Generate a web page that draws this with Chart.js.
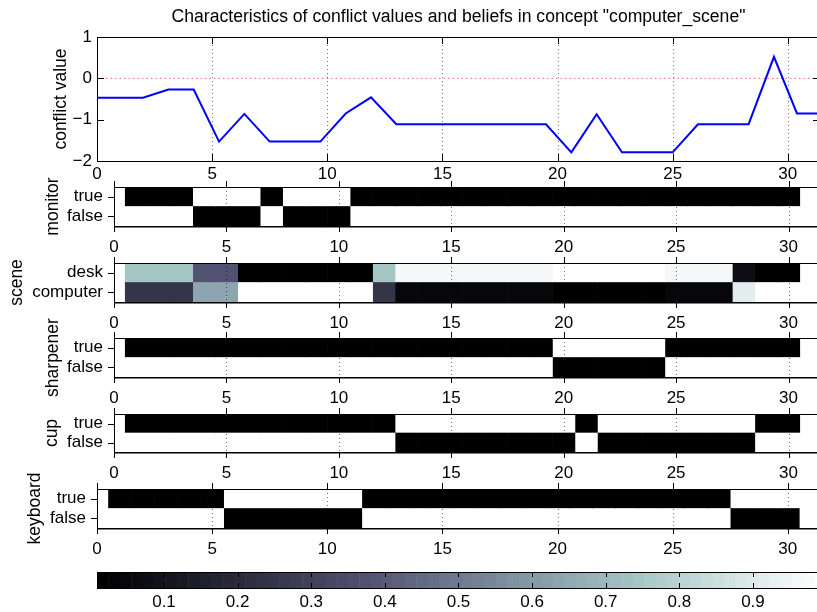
<!DOCTYPE html>
<html>
<head>
<meta charset="utf-8">
<script src="https://cdn.jsdelivr.net/npm/chart.js@4"></script>
<style>
    body { margin: 0; background: #fff; }
    #fig { position: relative; width: 817px; height: 612px; overflow: hidden; background: #fff; }
    #fig canvas { position: absolute; left: 0; top: 0; }
</style>
</head>
<body>
<div id="fig">
    <canvas id="conflictChart" width="840" height="612"></canvas>
    <canvas id="monitorChart" width="840" height="612"></canvas>
    <canvas id="sceneChart" width="840" height="612"></canvas>
    <canvas id="sharpenerChart" width="840" height="612"></canvas>
    <canvas id="cupChart" width="840" height="612"></canvas>
    <canvas id="keyboardChart" width="840" height="612"></canvas>
    <canvas id="colorbarChart" width="840" height="612"></canvas>
</div>
<script>
const titleText = 'Characteristics of conflict values and beliefs in concept "computer_scene"';

// top panel: conflict value per step
const conflictX = [-0.19, 0.9, 2.0, 3.1, 4.2, 5.3, 6.4, 7.5, 8.6, 9.7, 10.8, 11.9, 13.0, 14.1, 15.2,
    16.3, 17.4, 18.4, 19.5, 20.6, 21.7, 22.8, 23.9, 25.0, 26.1, 27.2, 28.3, 29.4, 30.4, 31.5];
const conflictY = [-0.47, -0.47, -0.47, -0.27, -0.27, -1.53, -0.86, -1.53, -1.53, -1.53, -0.85, -0.46, -1.11, -1.11, -1.11,
    -1.11, -1.11, -1.11, -1.11, -1.79, -0.87, -1.79, -1.79, -1.79, -1.11, -1.11, -1.11, 0.52, -0.85, -0.85];
const zeroLineX = [0, 31.4];
const zeroLineY = [0, 0];
const conflictYTicks = [-2, -1, 0, 1];
const conflictYTickLabels = ['\u22122', '\u22121', '0', '1'];

const xTicks = [0, 5, 10, 15, 20, 25, 30];
const xTickLabels = ['0', '5', '10', '15', '20', '25', '30'];

// belief panels: one column per step
const steps = [1, 2, 3, 4, 5, 6, 7, 8, 9, 10, 11, 12, 13, 14, 15, 16, 17, 18, 19, 20, 21, 22, 23, 24, 25, 26, 27, 28, 29, 30];

const monitorRows = ['true', 'false'];
const monitorTrue  = [0, 0, 0, 1, 1, 1, 0, 1, 1, 1, 0, 0, 0, 0, 0, 0, 0, 0, 0, 0, 0, 0, 0, 0, 0, 0, 0, 0, 0, 0];
const monitorFalse = [1, 1, 1, 0, 0, 0, 1, 0, 0, 0, 1, 1, 1, 1, 1, 1, 1, 1, 1, 1, 1, 1, 1, 1, 1, 1, 1, 1, 1, 1];

const sceneRows = ['desk', 'computer'];
const sceneDesk     = [0.75, 0.75, 0.75, 0.37, 0.37, 0, 0, 0, 0, 0, 0, 0.75, 0.96, 0.96, 0.96,
    0.96, 0.96, 0.96, 0.96, 1, 1, 1, 1, 1, 0.96, 0.96, 0.96, 0.08, 0, 0];
const sceneComputer = [0.25, 0.25, 0.25, 0.63, 0.63, 1, 1, 1, 1, 1, 1, 0.25, 0.04, 0.04, 0.04,
    0.04, 0.04, 0.04, 0.04, 0, 0, 0, 0, 0, 0.04, 0.04, 0.04, 0.92, 1, 1];

const sharpenerRows = ['true', 'false'];
const sharpenerTrue  = [0, 0, 0, 0, 0, 0, 0, 0, 0, 0, 0, 0, 0, 0, 0, 0, 0, 0, 0, 1, 1, 1, 1, 1, 0, 0, 0, 0, 0, 0];
const sharpenerFalse = [1, 1, 1, 1, 1, 1, 1, 1, 1, 1, 1, 1, 1, 1, 1, 1, 1, 1, 1, 0, 0, 0, 0, 0, 1, 1, 1, 1, 1, 1];

const cupRows = ['true', 'false'];
const cupTrue  = [0, 0, 0, 0, 0, 0, 0, 0, 0, 0, 0, 0, 1, 1, 1, 1, 1, 1, 1, 1, 0, 1, 1, 1, 1, 1, 1, 1, 0, 0];
const cupFalse = [1, 1, 1, 1, 1, 1, 1, 1, 1, 1, 1, 1, 0, 0, 0, 0, 0, 0, 0, 0, 1, 0, 0, 0, 0, 0, 0, 0, 1, 1];

const keyboardRows = ['true', 'false'];
const keyboardTrue  = [0, 0, 0, 0, 0, 1, 1, 1, 1, 1, 1, 0, 0, 0, 0, 0, 0, 0, 0, 0, 0, 0, 0, 0, 0, 0, 0, 1, 1, 1];
const keyboardFalse = [1, 1, 1, 1, 1, 0, 0, 0, 0, 0, 0, 1, 1, 1, 1, 1, 1, 1, 1, 1, 1, 1, 1, 1, 1, 1, 1, 0, 0, 0];

// colorbar
const cbTicks = [0.1, 0.2, 0.3, 0.4, 0.5, 0.6, 0.7, 0.8, 0.9];
const cbTickLabels = ['0.1', '0.2', '0.3', '0.4', '0.5', '0.6', '0.7', '0.8', '0.9'];

const CANVAS_W = 840, CANVAS_H = 612;
const X_MAX = 31.4;
const C_MIN = 0.009, C_MAX = 1.0, N_COLORS = 64;
const FONT = '"Liberation Sans", Arial, Helvetica, sans-serif';

Chart.defaults.font.family = FONT;
Chart.defaults.font.size = 17;
Chart.defaults.color = '#000';

// matlab "bone" colormap, 64 entries
function boneRGB(k) {
    const g = k / (N_COLORS - 1);
    const n = Math.floor(3 / 8 * N_COLORS);
    const hr = k < n ? (k + 1) / n : 1;
    const hg = k < n ? 0 : (k < 2 * n ? (k - n + 1) / n : 1);
    const hb = k < 2 * n ? 0 : (k - 2 * n + 1) / (N_COLORS - 2 * n);
    const c = [(7 * g + hb) / 8, (7 * g + hg) / 8, (7 * g + hr) / 8];
    return 'rgb(' + c.map(v => Math.round(v * 255)).join(',') + ')';
}

function boneColor(v) {
    let k = Math.floor((v - C_MIN) / (C_MAX - C_MIN) * N_COLORS);
    k = Math.max(0, Math.min(N_COLORS - 1, k));
    return boneRGB(k);
}

// box, ticks and dotted x grid drawn on top of the data
const boxAxes = {
    id: 'boxAxes',
    afterDatasetsDraw(chart, args, opts) {
        const ctx = chart.ctx;
        const a = chart.chartArea;
        const x = chart.scales.x;
        const y = chart.scales.y;
        const len = opts.tickLen || 6;
        const d = opts.inward ? 1 : -1;
        ctx.save();
        if (opts.grid) {
            ctx.strokeStyle = 'rgba(0,0,0,0.55)';
            ctx.lineWidth = 1;
            ctx.setLineDash([1, 3]);
            x.ticks.forEach((t, i) => {
                const px = Math.round(x.getPixelForTick(i)) + 0.5;
                if (px <= a.left + 2) return;
                ctx.beginPath();
                ctx.moveTo(px, a.top);
                ctx.lineTo(px, a.bottom);
                ctx.stroke();
            });
        }
        ctx.setLineDash([]);
        ctx.strokeStyle = '#000';
        ctx.lineWidth = 1;
        ctx.strokeRect(Math.round(a.left) + 0.5, Math.round(a.top) + 0.5,
            Math.round(a.right - a.left), Math.round(a.bottom - a.top));
        if (opts.thickBottom) {
            ctx.beginPath();
            ctx.moveTo(a.left, Math.round(a.bottom) + 1);
            ctx.lineTo(a.right, Math.round(a.bottom) + 1);
            ctx.stroke();
        }
        ctx.beginPath();
        x.ticks.forEach((t, i) => {
            const px = Math.round(x.getPixelForTick(i)) + 0.5;
            ctx.moveTo(px, a.bottom);
            ctx.lineTo(px, a.bottom - d * len);
            ctx.moveTo(px, a.top);
            ctx.lineTo(px, a.top + d * len);
        });
        if (y && y.options.display !== false) {
            y.ticks.forEach((t, i) => {
                const py = Math.round(y.getPixelForTick(i)) + 0.5;
                ctx.moveTo(a.left, py);
                ctx.lineTo(a.left + d * len, py);
                if (opts.inward) {
                    ctx.moveTo(a.right, py);
                    ctx.lineTo(a.right - len, py);
                }
            });
        }
        ctx.stroke();
        ctx.restore();
    }
};
Chart.register(boxAxes);

function xScaleOptions(bottom, padding) {
    return {
        type: 'linear',
        min: 0,
        max: X_MAX,
        grid: { display: false, drawTicks: false },
        border: { display: false },
        afterBuildTicks: s => { s.ticks = xTicks.map(v => ({ value: v })); },
        ticks: { padding: padding, maxRotation: 0, autoSkip: false, callback: (v, i) => xTickLabels[i] },
        afterFit: s => { s.height = CANVAS_H - bottom; }
    };
}

function yTitle(text, centerX) {
    return { display: true, text: text, font: { size: 17.5 }, padding: { top: centerX - 10.5, bottom: 0 } };
}

function initializeConflictChart() {
    const box = { left: 97, top: 37, right: 820, bottom: 161 };
    new Chart(document.getElementById('conflictChart'), {
        type: 'line',
        data: {
            datasets: [{
                data: conflictX.map((x, i) => ({ x: x, y: conflictY[i] })),
                borderColor: '#0000ff',
                borderWidth: 2,
                pointRadius: 0,
                tension: 0
            }, {
                data: zeroLineX.map((x, i) => ({ x: x, y: zeroLineY[i] })),
                borderColor: 'rgba(255,0,0,0.6)',
                borderWidth: 1,
                borderDash: [1.5, 3],
                pointRadius: 0
            }]
        },
        options: {
            responsive: false,
            animation: false,
            layout: { padding: { left: 0, top: 0, right: CANVAS_W - box.right, bottom: 0 } },
            plugins: {
                legend: { display: false },
                tooltip: { enabled: false },
                title: {
                    display: true,
                    text: titleText,
                    fullSize: false,
                    color: '#000',
                    font: { size: 17.6, weight: 'normal' },
                    padding: { top: 6.9, bottom: 9.0 }
                },
                boxAxes: { inward: true, tickLen: 7, grid: true }
            },
            scales: {
                x: xScaleOptions(box.bottom, 3.5),
                y: {
                    type: 'linear',
                    min: -2,
                    max: 1,
                    grid: { display: false, drawTicks: false },
                    border: { display: false },
                    afterBuildTicks: s => { s.ticks = conflictYTicks.map(v => ({ value: v })); },
                    ticks: { padding: 5, callback: (v, i) => conflictYTickLabels[i] },
                    title: yTitle('conflict value', 61),
                    afterFit: s => { s.width = box.left; }
                }
            }
        }
    });
}

function initializeBeliefChart(id, rows, values, label, box, labelX) {
    const datasets = steps.map((s, j) => ({
        data: rows.map(() => [s - 0.5, s + 0.5]),
        backgroundColor: values.map(r => boneColor(r[j])),
        borderWidth: 0
    }));
    new Chart(document.getElementById(id), {
        type: 'bar',
        data: { labels: rows, datasets: datasets },
        options: {
            indexAxis: 'y',
            responsive: false,
            animation: false,
            layout: { padding: { left: 0, top: box.top, right: CANVAS_W - box.right, bottom: 0 } },
            datasets: { bar: { grouped: false, categoryPercentage: 1, barPercentage: 1 } },
            plugins: {
                legend: { display: false },
                tooltip: { enabled: false },
                boxAxes: { inward: false, tickLen: 6, grid: true, thickBottom: true }
            },
            scales: {
                x: xScaleOptions(box.bottom, 10.8),
                y: {
                    type: 'category',
                    grid: { display: false, drawTicks: false },
                    border: { display: false },
                    ticks: { padding: 11, autoSkip: false },
                    title: yTitle(label, labelX),
                    afterFit: s => { s.width = box.left; }
                }
            }
        }
    });
}

const colorbarFill = {
    id: 'colorbarFill',
    beforeDatasetsDraw(chart) {
        const ctx = chart.ctx;
        const a = chart.chartArea;
        const x = chart.scales.x;
        ctx.save();
        for (let k = 0; k < N_COLORS; k++) {
            const x0 = x.getPixelForValue(C_MIN + k * (C_MAX - C_MIN) / N_COLORS);
            const x1 = x.getPixelForValue(C_MIN + (k + 1) * (C_MAX - C_MIN) / N_COLORS);
            ctx.fillStyle = boneRGB(k);
            ctx.fillRect(x0, a.top, x1 - x0 + 0.5, a.bottom - a.top);
        }
        ctx.restore();
    }
};

function initializeColorbar() {
    const box = { left: 97, top: 572, right: 826.6, bottom: 588 };
    new Chart(document.getElementById('colorbarChart'), {
        type: 'scatter',
        data: { datasets: [] },
        plugins: [colorbarFill],
        options: {
            responsive: false,
            animation: false,
            layout: { padding: { left: box.left, top: box.top, right: CANVAS_W - box.right, bottom: 0 } },
            plugins: {
                legend: { display: false },
                tooltip: { enabled: false },
                boxAxes: { inward: true, tickLen: 5, grid: false }
            },
            scales: {
                x: {
                    type: 'linear',
                    min: C_MIN,
                    max: C_MAX,
                    grid: { display: false, drawTicks: false },
                    border: { display: false },
                    afterBuildTicks: s => { s.ticks = cbTicks.map(v => ({ value: v })); },
                    ticks: { padding: 3.8, maxRotation: 0, autoSkip: false, callback: (v, i) => cbTickLabels[i] },
                    afterFit: s => { s.height = CANVAS_H - box.bottom; }
                },
                y: { display: false, min: 0, max: 1 }
            }
        }
    });
}

initializeConflictChart();
initializeBeliefChart('monitorChart', monitorRows, [monitorTrue, monitorFalse], 'monitor',
    { left: 114, top: 187, right: 820, bottom: 226 }, 53.5);
initializeBeliefChart('sceneChart', sceneRows, [sceneDesk, sceneComputer], 'scene',
    { left: 114, top: 263, right: 820, bottom: 302 }, 17);
initializeBeliefChart('sharpenerChart', sharpenerRows, [sharpenerTrue, sharpenerFalse], 'sharpener',
    { left: 114, top: 338, right: 820, bottom: 377 }, 53);
initializeBeliefChart('cupChart', cupRows, [cupTrue, cupFalse], 'cup',
    { left: 114, top: 414, right: 820, bottom: 452 }, 52);
initializeBeliefChart('keyboardChart', keyboardRows, [keyboardTrue, keyboardFalse], 'keyboard',
    { left: 97, top: 489, right: 820, bottom: 528 }, 35);
initializeColorbar();
</script>
</body>
</html>
